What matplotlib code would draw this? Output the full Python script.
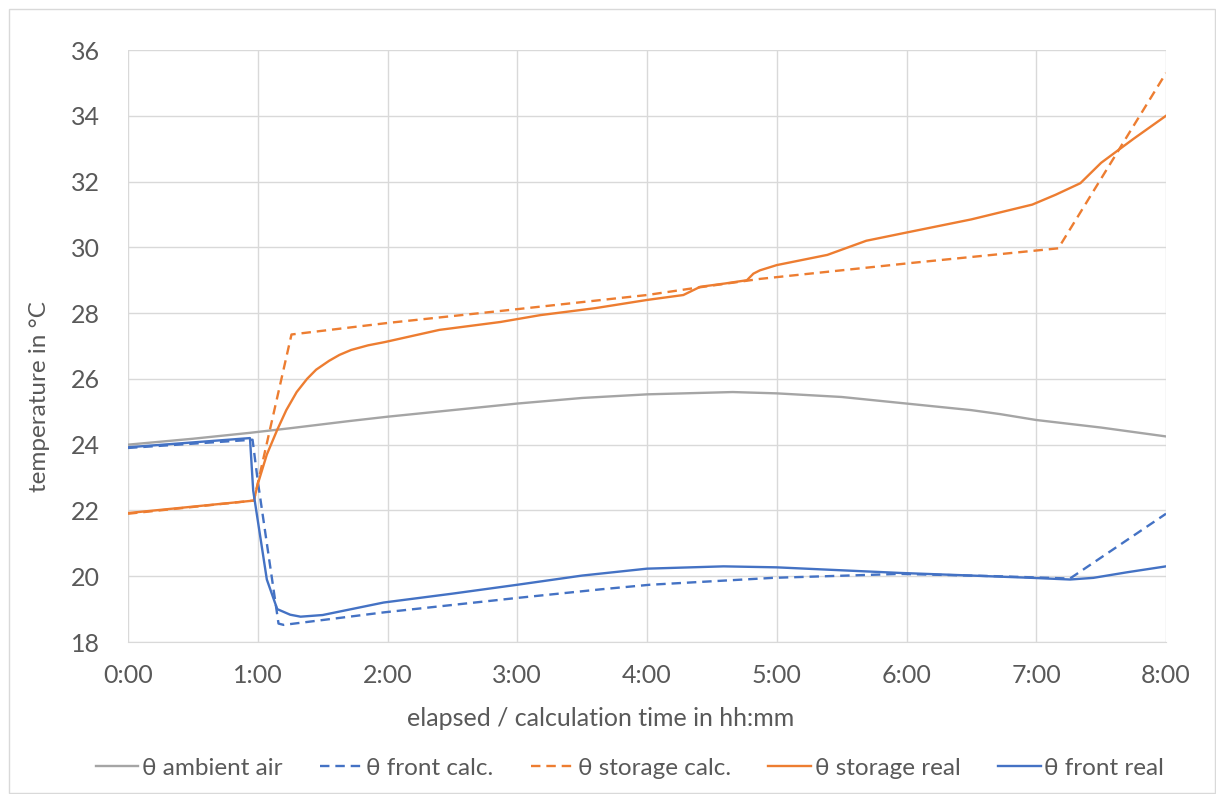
import matplotlib
matplotlib.use("Agg")
import matplotlib.pyplot as plt
from matplotlib.patches import Rectangle

# Elapsed time in hours and temperatures in °C
ambient_t = [0, 0.5, 0.94, 1.25, 1.71, 2.0, 2.5, 3.0, 3.5, 4.0, 4.66, 5.0, 5.5, 5.95, 6.5, 6.72, 7.0, 7.5, 8.0]
ambient_v = [24.0, 24.18, 24.36, 24.5, 24.72, 24.85, 25.05, 25.25, 25.42, 25.53, 25.6, 25.56, 25.45, 25.27, 25.05,
             24.93, 24.75, 24.52, 24.25]

front_calc_t = [0, 0.96, 1.0, 1.16, 1.2, 1.97, 3.0, 3.64, 4.02, 4.97, 5.95, 6.7, 7.26, 8.0]
front_calc_v = [23.9, 24.15, 22.9, 18.56, 18.52, 18.9, 19.34, 19.6, 19.74, 19.95, 20.07, 20.0, 19.93, 21.9]

storage_calc_t = [0, 0.97, 1.26, 2.0, 3.0, 4.0, 4.38, 4.87, 6.05, 7.17, 8.0]
storage_calc_v = [21.9, 22.3, 27.35, 27.7, 28.12, 28.55, 28.77, 29.04, 29.53, 29.97, 35.3]

storage_real_t = [0, 0.97, 1.0, 1.07, 1.15, 1.22, 1.3, 1.38, 1.45, 1.55, 1.63, 1.72, 1.85, 1.98, 2.4, 2.87,
                  3.18, 3.6, 4.0, 4.28, 4.41, 4.6, 4.77, 4.82, 4.87, 5.0, 5.39, 5.69, 6.0, 6.5, 6.97, 7.15,
                  7.34, 7.5, 7.75, 8.0]
storage_real_v = [21.92, 22.3, 22.8, 23.7, 24.45, 25.05, 25.6, 26.0, 26.28, 26.55, 26.73, 26.88, 27.02, 27.12,
                  27.49, 27.73, 27.94, 28.15, 28.4, 28.55, 28.8, 28.9, 29.0, 29.2, 29.3, 29.46, 29.77, 30.2,
                  30.45, 30.85, 31.3, 31.6, 31.95, 32.57, 33.3, 34.0]

front_real_t = [0, 0.94, 0.965, 1.07, 1.15, 1.25, 1.33, 1.5, 1.97, 2.5, 3.0, 3.5, 4.0, 4.59, 5.0, 5.5, 5.95,
                6.5, 6.97, 7.26, 7.44, 7.7, 8.0]
front_real_v = [23.92, 24.2, 22.6, 19.9, 19.0, 18.83, 18.77, 18.82, 19.2, 19.47, 19.74, 20.02, 20.23, 20.3,
                20.27, 20.18, 20.1, 20.02, 19.95, 19.9, 19.95, 20.12, 20.3]

x_ticks = [0, 1, 2, 3, 4, 5, 6, 7, 8]
x_tick_labels = ["0:00", "1:00", "2:00", "3:00", "4:00", "5:00", "6:00", "7:00", "8:00"]
y_ticks = [18, 20, 22, 24, 26, 28, 30, 32, 34, 36]

GRAY = "#A5A5A5"
BLUE = "#4472C4"
ORANGE = "#ED7D31"
TEXT = "#595959"
GRID = "#D9D9D9"

plt.rcParams["font.family"] = ["Lato", "DejaVu Sans"]

fig = plt.figure(figsize=(12.16, 7.94), dpi=100)
W, H = 1216, 794
ax = fig.add_axes([128 / W, 1 - 642 / H, (1166 - 128) / W, (642 - 50) / H])

ax.plot(ambient_t, ambient_v, color=GRAY, lw=1.7, label="θ ambient air")
ax.plot(front_calc_t, front_calc_v, color=BLUE, lw=1.7, dashes=(4, 2.5), label="θ front calc.")
ax.plot(storage_calc_t, storage_calc_v, color=ORANGE, lw=1.7, dashes=(4, 2.5), label="θ storage calc.")
ax.plot(storage_real_t, storage_real_v, color=ORANGE, lw=1.7, label="θ storage real")
ax.plot(front_real_t, front_real_v, color=BLUE, lw=1.7, label="θ front real")

ax.set_xlim(0, 8)
ax.set_ylim(18, 36)
ax.set_xticks(x_ticks)
ax.set_xticklabels(x_tick_labels)
ax.set_yticks(y_ticks)
ax.grid(True, color=GRID, lw=1.0)
ax.set_axisbelow(True)
for side in ["top", "right", "left"]:
    ax.spines[side].set_visible(False)
ax.spines["bottom"].set_color(GRID)
ax.tick_params(axis="both", length=0, colors=TEXT, labelsize=18)
ax.tick_params(axis="x", pad=16)
ax.tick_params(axis="y", pad=20)

ax.set_xlabel("elapsed / calculation time in hh:mm", color=TEXT, fontsize=18)
ax.xaxis.set_label_coords((601 - 128) / 1038, (642 - 718) / 592)
ax.xaxis.label.set_va("center")
ax.set_ylabel("temperature in °C", color=TEXT, fontsize=17.5)
ax.yaxis.set_label_coords((40 - 128) / 1038, (642 - 397) / 592)
ax.yaxis.label.set_va("center")

leg = fig.legend(loc="center", bbox_to_anchor=(630 / W, 1 - 768 / H), ncol=5, frameon=False,
                 fontsize=17.5, handlelength=1.75, columnspacing=1.55, handletextpad=0.15)
for t in leg.get_texts():
    t.set_color(TEXT)

fig.patches.append(Rectangle((9 / W, 1 / H), (1206 / W), (784 / H), transform=fig.transFigure,
                             fill=False, edgecolor="#D9D9D9", lw=1.0))

fig.savefig("out.png", dpi=100)
